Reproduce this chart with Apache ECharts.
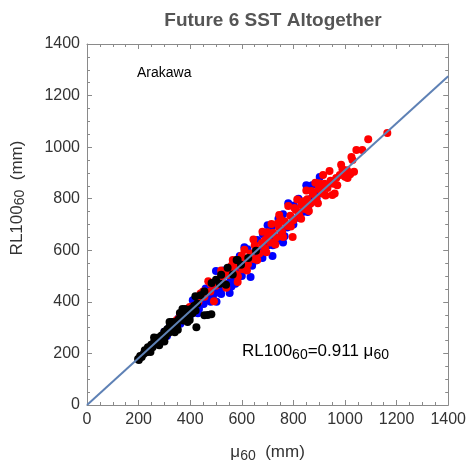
<!DOCTYPE html>
<html><head><meta charset="utf-8">
<script src="https://cdn.jsdelivr.net/npm/echarts@6/dist/echarts.min.js"></script>
<style>html,body{margin:0;padding:0;background:#fff}#c{width:469px;height:468px}</style>
</head><body><div id="c"></div>
<script>
const titleText = 'Future 6 SST Altogether';
const basinLabel = 'Arakawa';
const ticks = [0, 200, 400, 600, 800, 1000, 1200, 1400];
const fitLine = [[0, 0], [1400, 1275]];

const blackPts = [
[198,178],[201,175],[206,190],[212,186],[219,198],[224,212],[231,205],[236,224],[243,214],[249,234],[254,224],
[260,244],[266,252],[272,236],[277,262],[283,250],[289,270],[295,258],[300,284],[305,268],[311,294],[317,280],
[321,304],[327,288],[333,312],[339,296],[344,322],[349,308],[355,332],[360,357],[366,338],[372,328],[379,350],
[385,336],[391,362],[397,346],[403,372],[409,356],[415,384],[421,366],[427,394],[515,470],[539,466],
[565,506],[580,562],[597,544],[625,570],[655,598],[424,302],[455,348],[468,349],[482,352],[300,246],[352,292],
[398,330],[246,206],[330,322],[380,372],[260,262],[280,232],[320,322],[340,282],[370,372],
[390,322],[420,422],[545,532],[483,473],[584,562],[520,505],[455,440],[440,426],[500,486]
];
const bluePts = [
[292,262],[300,284],[310,268],[318,300],[326,290],[335,322],[345,306],[355,336],[362,315],[372,350],[382,330],
[390,362],[398,344],[408,380],[418,360],[425,398],[434,372],[442,410],[452,392],[460,426],[470,405],[478,444],
[488,420],[496,460],[505,436],[522,452],[540,470],[558,488],[576,500],[594,520],[612,536],[630,552],[648,566],
[666,582],[684,600],[702,620],[720,636],[738,650],[756,668],[776,688],[796,706],[816,726],[836,748],[856,766],
[868,800],[880,790],[892,820],[906,830],[920,842],[936,856],[952,868],[640,540],[560,460],[720,620],[500,520],
[580,560],[660,640],[760,740],[820,800],[634,496],[719,578],[855,748],[553,434],[502,400],[430,356],[600,500],
[480,400],[520,430],[575,470],[610,612],[655,560],[700,697],[745,640],[780,782],[800,700],[850,852],[890,800],
[760,630],[680,570],[530,522],[460,452],[410,406],[622,604],[682,662],[742,722],[802,774],[872,852],[902,884],
[662,572],[766,654],[592,578],[716,690]
];
const redPts = [
[335,318],[348,330],[360,345],[385,362],[398,380],[408,382],[432,400],[455,420],[478,440],[500,462],[524,482],
[546,504],[568,524],[580,505],[590,545],[602,526],[612,565],[624,546],[634,588],[646,566],[656,606],[668,588],
[678,628],[690,608],[700,650],[712,630],[722,668],[734,650],[744,690],[756,672],[766,712],[778,694],[788,734],
[800,716],[810,756],[822,738],[832,776],[844,760],[854,798],[866,780],[876,818],[888,800],[898,838],[910,820],
[920,858],[932,842],[944,870],[956,858],[966,880],[980,892],[994,902],[1008,910],[1025,962],[1029,950],
[1044,989],[1067,989],[1090,1031],[1164,1055],[1010,880],[1020,895],[1035,905],[951,814],[960,820],[797,652],
[584,477],[804,764],[450,440],[480,470],[520,500],[560,540],[600,580],[650,620],[700,670],[750,720],[870,830],
[900,860],[990,915],[470,480],[492,402],[520,522],[540,455],[565,562],[585,498],[610,602],[620,522],[645,642],
[660,562],[680,672],[695,592],[715,702],[730,622],[745,737],[760,652],[780,772],[790,692],[815,797],[830,722],
[850,832],[860,752],[885,862],[895,782],[915,892],[925,812],[940,907],[970,852],[985,932],[1000,885],[440,432],
[395,372],[610,545],[575,540],[540,515],[690,640],[740,705],[840,790],[905,845]
];

const chart = echarts.init(document.getElementById('c'), null, {renderer: 'canvas'});
const frameColor = '#8a8a8a';
const labelColor = '#333';
const fontFam = 'Liberation Sans, Arial';
function axisBase(pos, showLabel) {
  return {
    type: 'value', min: 0, max: 1400, interval: 200, position: pos,
    axisLine: {show: true, onZero: false, lineStyle: {color: frameColor, width: 1}},
    axisTick: {show: true, inside: true, length: 5, lineStyle: {color: frameColor}},
    minorTick: {show: true, splitNumber: 4, length: 3, lineStyle: {color: frameColor}},
    splitLine: {show: false},
    axisLabel: {show: showLabel, color: labelColor, fontSize: 16, fontFamily: fontFam, margin: 7,
      formatter: v => ticks.includes(v) ? String(v) : ''}
  };
}
const nameRich = {
  m: {fontSize: 17, color: labelColor, fontFamily: fontFam},
  s: {fontSize: 14, color: labelColor, fontFamily: fontFam, padding: [7, 0, 0, 0]}
};
const xBottom = Object.assign(axisBase('bottom', true), {
  name: '{m|μ}{s|60}{m|  (mm)}', nameLocation: 'middle', nameGap: 37,
  nameTextStyle: {rich: nameRich}
});

chart.setOption({
  animation: false,
  backgroundColor: '#fff',
  title: {text: titleText, left: 268, top: 6, textAlign: 'center',
    textStyle: {fontSize: 19, fontWeight: 'bold', color: '#555', fontFamily: fontFam}},
  grid: {left: 87, top: 44, right: 20, bottom: 63},
  xAxis: [xBottom, axisBase('top', false)],
  yAxis: [axisBase('left', true), axisBase('right', false)],
  graphic: [
    {type: 'text', left: 137, top: 66, style: {text: basinLabel, fontSize: 14, fill: '#000', fontFamily: fontFam}},
    {type: 'text', x: 17, y: 198, rotation: Math.PI / 2, style: {
      text: '{m|RL100}{s|60}{m|  (mm)}', align: 'center', verticalAlign: 'middle',
      rich: {m: {fontSize: 17, fill: labelColor, fontFamily: fontFam},
        s: {fontSize: 14, fill: labelColor, fontFamily: fontFam, padding: [7, 0, 0, 0]}}}},
    {type: 'text', left: 242, top: 343, style: {
      text: '{m|RL100}{s|60}{m|=0.911 μ}{s|60}',
      rich: {m: {fontSize: 17, fill: '#000', fontFamily: fontFam},
        s: {fontSize: 14, fill: '#000', fontFamily: fontFam, padding: [7, 0, 0, 0]}}}}
  ],
  series: [
    {type: 'scatter', data: bluePts, symbolSize: 8, itemStyle: {color: '#0000ff', opacity: 1}},
    {type: 'scatter', data: redPts, symbolSize: 8, itemStyle: {color: '#ff0000', opacity: 1}},
    {type: 'scatter', data: blackPts, symbolSize: 8, itemStyle: {color: '#000000', opacity: 1}},
    {type: 'line', data: fitLine, symbol: 'none', lineStyle: {color: '#5e81b5', width: 2}}
  ]
});
</script></body></html>
